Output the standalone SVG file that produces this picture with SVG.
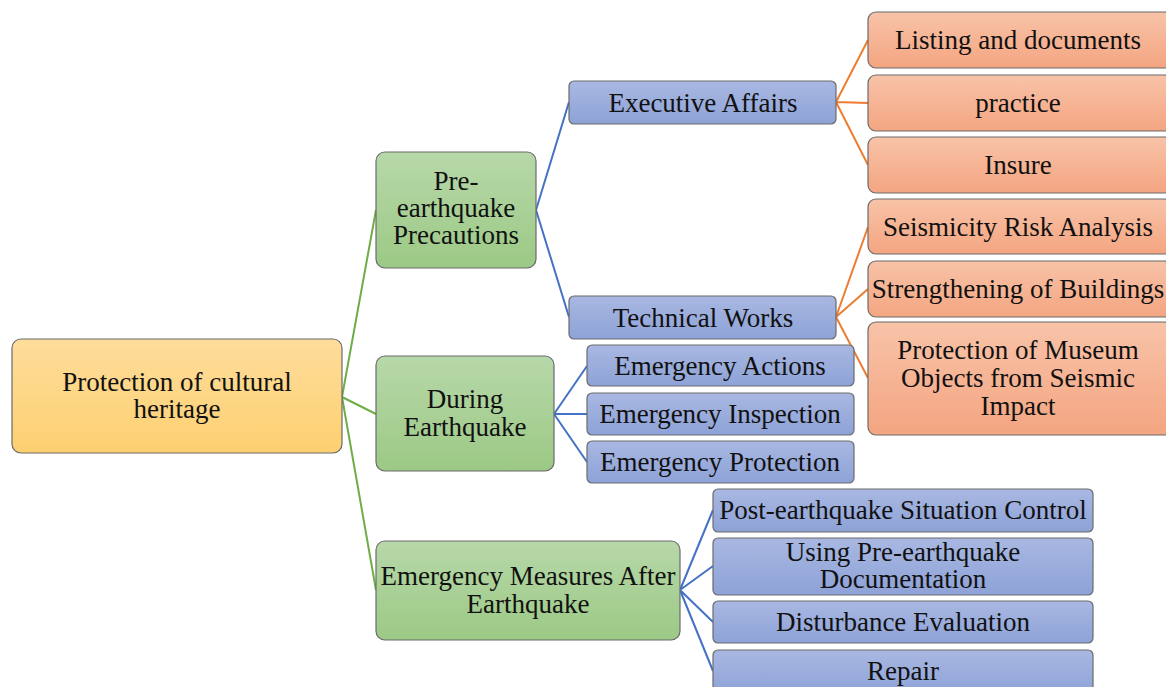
<svg xmlns="http://www.w3.org/2000/svg" width="1166" height="687" viewBox="0 0 1166 687">
<defs>
<linearGradient id="gY" x1="0" y1="0" x2="0" y2="1"><stop offset="0" stop-color="#fedd9c"/><stop offset="1" stop-color="#fdd070"/></linearGradient>
<linearGradient id="gG" x1="0" y1="0" x2="0" y2="1"><stop offset="0" stop-color="#b7d8a9"/><stop offset="1" stop-color="#9cc985"/></linearGradient>
<linearGradient id="gB" x1="0" y1="0" x2="0" y2="1"><stop offset="0" stop-color="#a9b8e2"/><stop offset="1" stop-color="#8da2d7"/></linearGradient>
<linearGradient id="gO" x1="0" y1="0" x2="0" y2="1"><stop offset="0" stop-color="#f8c3a8"/><stop offset="1" stop-color="#f4a581"/></linearGradient>
</defs>
<style>
rect{stroke:#6b6b6b;stroke-width:1.2}
.y{fill:url(#gY)}.g{fill:url(#gG)}.b{fill:url(#gB)}.o{fill:url(#gO)}
text{font-family:"Liberation Serif","Times New Roman",serif;font-size:27px;fill:#111;text-anchor:middle}
.cg{stroke:#70ad47;stroke-width:2;fill:none}
.cb{stroke:#4472c4;stroke-width:2;fill:none}
.co{stroke:#ed7d31;stroke-width:2;fill:none}
</style>
<rect width="1166" height="687" fill="#fff" style="stroke:none"/>
<g id="connectors">
<path class="cg" d="M342 397 L376 210 M342 397 L376 414 M342 397 L376 590"/>
<path class="cb" d="M536 210 L569 102 M536 210 L569 317"/>
<path class="co" d="M836 102 L868 40 M836 102 L868 103 M836 102 L868 165"/>
<path class="co" d="M836 317 L868 227 M836 317 L868 289 M836 317 L868 378"/>
<path class="cb" d="M554 414 L587 366 M554 414 L587 414 M554 414 L587 462"/>
<path class="cb" d="M680 590 L713 510 M680 590 L713 566 M680 590 L713 622 M680 590 L713 671"/>
</g>
<g id="root"><rect class="y" x="12" y="339" width="330" height="114" rx="9"/><text x="177" y="391">Protection of cultural</text><text x="177" y="418">heritage</text></g>
<g id="pre"><rect class="g" x="376" y="152" width="160" height="116" rx="9"/><text x="456" y="190">Pre-</text><text x="456" y="217">earthquake</text><text x="456" y="244">Precautions</text></g>
<g id="during"><rect class="g" x="376" y="356" width="178" height="115" rx="9"/><text x="465" y="408">During</text><text x="465" y="436">Earthquake</text></g>
<g id="after"><rect class="g" x="376" y="541" width="304" height="99" rx="9"/><text x="528" y="585">Emergency Measures After</text><text x="528" y="613">Earthquake</text></g>
<g id="exec"><rect class="b" x="569" y="81" width="267" height="43" rx="5"/><text x="703" y="112">Executive Affairs</text></g>
<g id="tech"><rect class="b" x="569" y="296" width="267" height="43" rx="5"/><text x="703" y="327">Technical Works</text></g>
<g id="listing"><rect class="o" x="868" y="12" width="304" height="56" rx="8"/><text x="1018" y="49">Listing and documents</text></g>
<g id="practice"><rect class="o" x="868" y="75" width="304" height="56" rx="8"/><text x="1018" y="112">practice</text></g>
<g id="insure"><rect class="o" x="868" y="137" width="304" height="56" rx="8"/><text x="1018" y="174">Insure</text></g>
<g id="seismic"><rect class="o" x="868" y="199" width="304" height="55" rx="8"/><text x="1018" y="236">Seismicity Risk Analysis</text></g>
<g id="strength"><rect class="o" x="868" y="261" width="304" height="56" rx="8"/><text x="1018" y="298">Strengthening of Buildings</text></g>
<g id="museum"><rect class="o" x="868" y="322" width="304" height="113" rx="8"/><text x="1018" y="359">Protection of Museum</text><text x="1018" y="387">Objects from Seismic</text><text x="1018" y="415">Impact</text></g>
<g id="eact"><rect class="b" x="587" y="345" width="267" height="41" rx="5"/><text x="720" y="375">Emergency Actions</text></g>
<g id="einsp"><rect class="b" x="587" y="393" width="267" height="42" rx="5"/><text x="720" y="423">Emergency Inspection</text></g>
<g id="eprot"><rect class="b" x="587" y="441" width="267" height="42" rx="5"/><text x="720" y="471">Emergency Protection</text></g>
<g id="post"><rect class="b" x="713" y="489" width="380" height="43" rx="5"/><text x="903" y="519">Post-earthquake Situation Control</text></g>
<g id="using"><rect class="b" x="713" y="538" width="380" height="57" rx="5"/><text x="903" y="561">Using Pre-earthquake</text><text x="903" y="588">Documentation</text></g>
<g id="disturb"><rect class="b" x="713" y="601" width="380" height="42" rx="5"/><text x="903" y="631">Disturbance Evaluation</text></g>
<g id="repair"><rect class="b" x="713" y="650" width="380" height="45" rx="5"/><text x="903" y="680">Repair</text></g>
</svg>
